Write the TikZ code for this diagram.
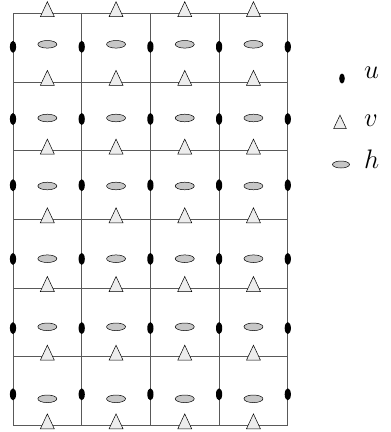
\documentclass[tikz,border=0pt]{standalone}
\usetikzlibrary{calc}

\newcommand\vmark[2][1]{\filldraw[vpt,shift={#2},scale=#1] (-7,3.4) -- (7,3.4) -- (0,-11.6) -- cycle;}

\begin{document}
\begin{tikzpicture}[x=1bp,y=-1bp,
  gridline/.style={line width=1pt,draw=black!65},
  upt/.style={fill=black},
  vpt/.style={draw=black,line width=0.5pt,fill=black!7},
  hpt/.style={draw=black,line width=0.5pt,fill=black!22},
  lbl/.style={anchor=base west,inner sep=0pt,font=\Huge}]
  \useasboundingbox (0,0) rectangle (391,432);
  \def\cs{68.7}

  % grid
  \foreach \i in {0,...,4}
    \draw[gridline] ({13+\i*\cs},13.3) -- ({13+\i*\cs},{13.3+6*\cs});
  \foreach \j in {0,...,6}
    \draw[gridline] (13,{13.3+\j*\cs}) -- ({13+4*\cs},{13.3+\j*\cs});

  % u on vertical edges, h in cells
  \foreach \j/\uo/\ho in {0/33.5/31,1/37/36,2/34.5/35.3,3/39.5/39.3,4/40/38.7,5/37.5/42}{
    \foreach \i in {0,...,4}
      \fill[upt] ({13+\i*\cs},{13.3+\j*\cs+\uo}) ellipse [x radius=3.1,y radius=6];
    \foreach \i in {0,...,3}
      \filldraw[hpt] ({13+(\i+0.5)*\cs},{13.3+\j*\cs+\ho}) ellipse [x radius=9.5,y radius=3.8];
  }

  % v on horizontal edges
  \foreach \j in {0,...,6}{
    \foreach \i in {0,...,3}{
      \vmark{({13+(\i+0.5)*\cs},{13.3+\j*\cs})}
    }
  }

  % legend
  \fill[upt] (342,78.5) ellipse [x radius=2.8,y radius=5];
  \vmark[0.9]{(340,125.5)}
  \filldraw[hpt] (341,164.5) ellipse [x radius=8.5,y radius=3.5];
  \node[lbl] (lu) at (364,78) {\scalebox{1.08}{$u$}};
  \node[lbl] (lv) at (364,126.5) {\scalebox{1.08}{$v$}};
  \node[lbl] (lh) at (364,168) {\scalebox{1.08}{$h$}};
\end{tikzpicture}
\end{document}
